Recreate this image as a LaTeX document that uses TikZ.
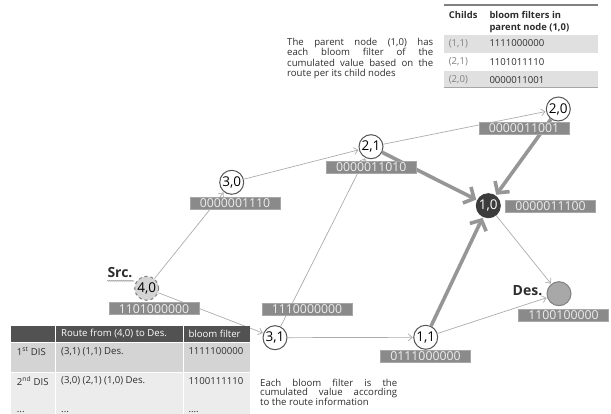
\documentclass[tikz,border=0pt]{standalone}
\usepackage{fontspec}
\setmainfont{Open Sans}
\usetikzlibrary{arrows.meta,decorations.pathmorphing}

\definecolor{edgegray}{RGB}{172,172,172}
\definecolor{thickgray}{RGB}{150,150,150}
\definecolor{boxgray}{RGB}{138,138,138}
\definecolor{ringgray}{RGB}{85,85,85}
\definecolor{darknode}{RGB}{60,60,60}
\definecolor{desfill}{RGB}{168,168,168}
\definecolor{srcfill}{RGB}{212,212,212}
\definecolor{txtgray}{RGB}{45,45,45}
\definecolor{headdark}{RGB}{82,82,82}
\definecolor{rowdark}{RGB}{212,212,212}
\definecolor{rowlight}{RGB}{236,236,236}
\definecolor{toprow}{RGB}{224,224,224}

% a line of text spread to a fixed width
\newcommand{\spreadline}[2]{\makebox[#1][s]{#2}}

\tikzset{
  vertex/.style={circle, draw=ringgray, line width=1pt, fill=white,
    minimum size=24pt, inner sep=0pt, font=\fontsize{13.5}{13.5}\selectfont},
  bits/.style={fill=boxgray, draw=boxgray!75!white, line width=0.5pt,
    text=white!93!black, inner xsep=0pt, inner ysep=1.2pt,
    minimum width=90pt, text height=9.2pt, text depth=0pt,
    font=\fontsize{12.3}{12.3}\selectfont},
  thinedge/.style={draw=edgegray, line width=0.7pt,
    -{Straight Barb[length=4pt,width=7pt]}, shorten >=0.5pt},
  thickedge/.style={draw=thickgray, line width=3.6pt,
    -{Straight Barb[length=8pt,width=18pt]}, shorten >=1pt},
  tag/.style={font=\bfseries\fontsize{14}{14}\selectfont, text=txtgray, inner sep=0pt},
  note/.style={font=\fontsize{9.6}{10.4}\selectfont, text=txtgray, inner sep=0pt, align=left},
  cell/.style={font=\fontsize{9.6}{10}\selectfont, text=txtgray, anchor=west, inner sep=0pt},
  headcell/.style={cell, font=\bfseries\fontsize{9.4}{10}\selectfont},
  darkhead/.style={cell, text=white}
}

\begin{document}
\begin{tikzpicture}[x=1pt, y=-1pt]
\useasboundingbox (0,0) rectangle (611,414);
\clip (0,0) rectangle (611,414);

% graph vertices
\node[vertex, fill=srcfill, draw=gray, dashed] (n40) at (146.7,288.3) {4,0};
\node[vertex] (n30) at (231.7,182.3) {3,0};
\node[vertex] (n21) at (371,146.7) {2,1};
\node[vertex] (n20) at (558.3,109) {2,0};
\node[vertex, fill=darknode, draw=darknode, text=white] (n10) at (488.3,205.7) {1,0};
\node[vertex] (n31) at (275,337.7) {3,1};
\node[vertex] (n11) at (425.7,337.3) {1,1};
\node[vertex, fill=desfill, draw=gray] (des) at (559,293.7) {};

% route links
\draw[thinedge] (n40) -- (n30);
\draw[thinedge] (n40) -- (n31);
\draw[thinedge] (n30) -- (n21);
\draw[thinedge] (n31) -- (n21);
\draw[thinedge] (n31) -- (n11);
\draw[thinedge] (n21) -- (n20);
\draw[thinedge] (n10) -- (des);
\draw[thinedge] (n11) -- (des);
\draw[thickedge] (n21) -- (n10);
\draw[thickedge] (n20) -- (n10);
\draw[thickedge] (n11) -- (n10);

% source / destination tags
\node[tag] (src) at (120,273) {Src.};
\draw[gray, line width=0.4pt, decorate,
  decoration={snake, amplitude=0.6pt, segment length=2pt}]
  (src.south west) ++(0,2.5) -- ++(27,0);
\node[tag] (dst) at (527.5,291) {Des.};

% bloom filter values per node
\node[bits] (b40) at (154,308.5) {1101000000};
\node[bits] (b30) at (235,203.3) {0000001110};
\node[bits] (b21) at (371.2,167) {0000011010};
\node[bits] (b20) at (524,128) {0000011001};
\node[bits] (b10) at (550.5,206) {0000011100};
\node[bits] (b31) at (307,309) {1110000000};
\node[bits] (b11) at (425.5,356.3) {0111000000};
\node[bits] (bdes) at (563.5,315) {1100100000};

% explanatory notes, justified line by line
\node[note, anchor=north west] (topnote) at (287,38)
  {\spreadline{146pt}{The parent node (1,0) has}\\
   \spreadline{146pt}{each bloom filter of the}\\
   \spreadline{146pt}{cumulated value based on the}\\
   route per its child nodes};
\node[note, anchor=north west, font=\fontsize{9.6}{9.8}\selectfont] (botnote) at (260,378.5)
  {\spreadline{137pt}{Each bloom filter is the}\\
   \spreadline{137pt}{cumulated value according}\\
   to the route information};

% table of child filters kept at (1,0)
\fill[toprow] (444.3,35) rectangle (597.7,53);
\fill[toprow] (444.3,71) rectangle (597.7,88);
\draw[gray, line width=1.3pt] (444.3,5) -- (597.7,5);
\draw[gray!70, line width=1pt] (444.3,88) -- (597.7,88);
\node[headcell] (hc1) at (448.7,15) {Childs};
\node[headcell] (hc2) at (489.3,15) {bloom filters in};
\node[headcell] (hc3) at (489.3,28.5) {parent node (1,0)};
\node[cell, text=gray] (c11) at (448.7,43.5) {(1,1)};
\node[cell] (f11) at (489.3,43.5) {1111000000};
\node[cell, text=gray] (c21) at (448.7,61.7) {(2,1)};
\node[cell] (f21) at (489.3,61.7) {1101011110};
\node[cell, text=gray] (c20) at (448.7,80) {(2,0)};
\node[cell] (f20) at (489.3,80) {0000011001};

% table of discovered routes from the source
\fill[headdark] (11,326.3) rectangle (250,342);
\fill[rowdark] (11,342.7) rectangle (250,372.3);
\fill[rowlight] (11,373) rectangle (250,400.7);
\fill[rowlight] (11,401.3) rectangle (250,420);
\draw[white, line width=1.2pt] (55.5,326) -- (55.5,420) (183.3,326) -- (183.3,420);
\node[darkhead] (rh1) at (61,334) {Route from (4,0) to Des.};
\node[darkhead] (rh2) at (188.3,334) {bloom filter};
\node[cell] (r1a) at (16.7,351.3) {1\textsuperscript{st} DIS};
\node[cell] (r1b) at (61,351.3) {(3,1) (1,1) Des.};
\node[cell] (r1c) at (188.3,351.3) {1111100000};
\node[cell] (r2a) at (16.7,380.7) {2\textsuperscript{nd} DIS};
\node[cell] (r2b) at (61,380.7) {(3,0) (2,1) (1,0) Des.};
\node[cell] (r2c) at (188.3,380.7) {1100111110};
\node[cell, anchor=base west] (r3a) at (16.7,412.8) {...};
\node[cell, anchor=base west] (r3b) at (61,412.8) {...};
\node[cell, anchor=base west] (r3c) at (188.3,412.8) {....};
\end{tikzpicture}
\end{document}
